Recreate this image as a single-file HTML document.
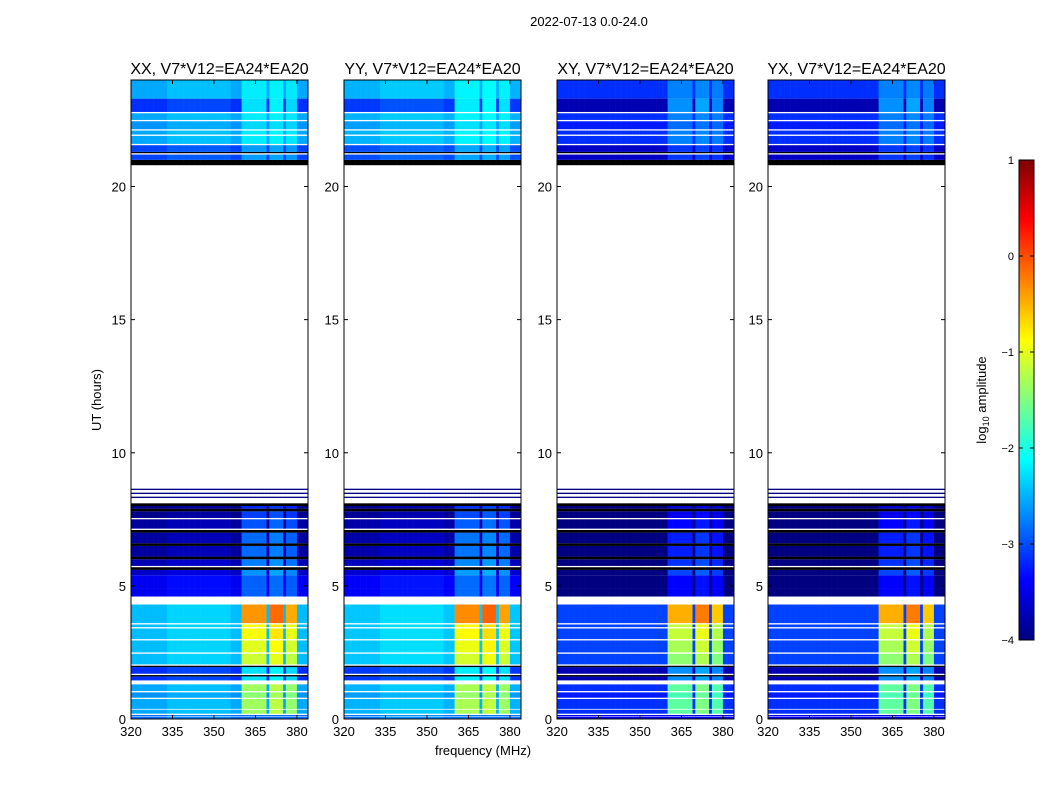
<!DOCTYPE html>
<html><head><meta charset="utf-8"><style>
body{margin:0;background:#fff;width:1050px;height:800px;overflow:hidden;font-family:"Liberation Sans",sans-serif}
svg text{font-family:"Liberation Sans",sans-serif}
</style></head><body>
<svg id="fig" width="1050" height="800" xmlns="http://www.w3.org/2000/svg">
<text x="589" y="26" font-size="13" text-anchor="middle">2022-07-13 0.0-24.0</text>
<text x="101" y="400" font-size="13" text-anchor="middle" transform="rotate(-90 101 400)">UT (hours)</text>
<text x="483" y="755" font-size="13" text-anchor="middle">frequency (MHz)</text>
<g id="panels"></g>
<g id="cbar"></g>
</svg>
<script>
// ---- data ----
const panelTitles = ["XX, V7*V12=EA24*EA20","YY, V7*V12=EA24*EA20","XY, V7*V12=EA24*EA20","YX, V7*V12=EA24*EA20"];
const polOffset = [-0.25, -0.2, -0.85, -0.85];
const polBand = [1.1, 1.1, 1.35, 1.35];
const segStart = [0.00,0.10,0.20,0.38,0.80,1.05,1.45,1.60,1.70,1.95,2.05,2.50,3.00,3.45,3.60,4.60,4.90,5.40,5.60,5.75,6.00,6.10,6.50,6.60,7.00,7.15,7.55,7.80,7.90,8.00,8.30,8.45,8.60,20.80,21.00,21.25,21.30,21.60,21.95,22.15,22.50,22.80,23.30];
const segEnd   = [0.08,0.15,0.35,0.75,1.00,1.30,1.60,1.65,1.95,2.00,2.45,2.95,3.40,3.55,4.30,4.90,5.40,5.60,5.70,6.00,6.10,6.50,6.60,7.00,7.10,7.50,7.80,7.90,8.00,8.10,8.35,8.50,8.65,21.00,21.20,21.30,21.55,21.90,22.10,22.45,22.75,23.30,24.00];
const segLevel = [-2.6,-2.6,-2.3,-2.3,-2.4,-2.3,-2.9,-5,-2.9,-5,-2.2,-2.2,-2.2,-2.2,-2.2,-3.2,-3.2,-3.4,-5,-3.5,-5,-3.6,-5,-3.6,-5,-3.6,-3.7,-5,-3.7,-5,-3.8,-3.8,-3.8,-5,-2.8,-5,-2.8,-2.3,-2.3,-2.4,-2.3,-2.9,-2.3];
const segBand  = [0,0,1.1,1.1,1.1,1.1,0.8,0,0.8,0,1.2,1.3,1.4,1.4,1.9,0.5,0.5,0.9,0,0.9,0,0.9,0,0.9,0,0.8,0.8,0,0.7,0,0,0,0,0,0.4,0,0.4,0.3,0.3,0.3,0.3,0.8,0.3];
const bandStart = [360.5,365.5,370.5,375.8];
const bandEnd   = [364.7,369.4,374.8,380.1];
const bandBoost = [1.0,1.0,1.1,0.95];
const xTicks = [320,335,350,365,380];
const yTicks = [0,5,10,15,20];
const cbTicks = [1,0,-1,-2,-3,-4];
const fMin=320, fMax=384, tMin=0, tMax=24, vMin=-4, vMax=1;
// ---- layout ----
const panelX=[131,344,557,768], pW=177, pTop=80, pBot=719;
const NS="http://www.w3.org/2000/svg";
function el(tag,attrs,parent){const e=document.createElementNS(NS,tag);for(const k in attrs)e.setAttribute(k,attrs[k]);parent.appendChild(e);return e;}
function jet(v){
  if(v<-4.9) return "#000000";
  let t=(v-vMin)/(vMax-vMin); t=Math.max(0,Math.min(1,t));
  const f=x=>Math.round(255*Math.max(0,Math.min(1,x)));
  const r=1.5-Math.abs(4*t-3), g=1.5-Math.abs(4*t-2), b=1.5-Math.abs(4*t-1);
  return `rgb(${f(r)},${f(g)},${f(b)})`;
}
const gp=document.getElementById('panels');
panelTitles.forEach((title,p)=>{
  const x0=panelX[p];
  const xs=f=>x0+(f-fMin)/(fMax-fMin)*pW;
  const ys=h=>pBot-(h-tMin)/(tMax-tMin)*(pBot-pTop);
  const g=el('g',{},gp);
  
  
  el('rect',{x:x0,y:pTop,width:pW,height:pBot-pTop,fill:'#fff'},g);
  for(let s=0;s<segStart.length;s++){
    const y1=ys(segEnd[s]), y2=ys(segStart[s]);
    for(let f=fMin;f<fMax;f++){
      let v=segLevel[s];
      if(v>-4.5){
        v+=polOffset[p];
        const fc=f+0.5;
        for(let b=0;b<bandStart.length;b++) if(fc>=bandStart[b]&&fc<=bandEnd[b]) v+=bandBoost[b]*segBand[s]*polBand[p];
        if(fc>333&&fc<356&&p<2) v+=0.12;
        v=Math.max(v,-4.2);
      }
      const r=el('rect',{x:xs(f),y:y1,width:xs(f+1)-xs(f)+0.3,height:y2-y1,fill:jet(v)},g);
      
      
    }
  }
  el('rect',{x:x0,y:pTop,width:pW,height:pBot-pTop,fill:'none',stroke:'#000','stroke-width':1},g);
  const t=el('text',{x:x0+pW/2,y:74,'font-size':16,'text-anchor':'middle'},g);t.textContent=title;
  
  
  xTicks.forEach(v=>{
    const x=xs(v);
    el('line',{x1:x,x2:x,y1:pBot,y2:pBot-4,stroke:'#000'},g);
    el('line',{x1:x,x2:x,y1:pTop,y2:pTop+4,stroke:'#000'},g);
    const l=el('text',{x:x,y:736,'font-size':13,'text-anchor':'middle'},g);l.textContent=v;
    
    
  });
  yTicks.forEach(v=>{
    const y=ys(v);
    el('line',{x1:x0,x2:x0+4,y1:y,y2:y,stroke:'#000'},g);
    el('line',{x1:x0+pW,x2:x0+pW-4,y1:y,y2:y,stroke:'#000'},g);
    const l=el('text',{x:x0-5,y:y+5,'font-size':13,'text-anchor':'end'},g);l.textContent=v;
    
    
  });
});
// colorbar
const cb=document.getElementById('cbar');


const cx=1019,cw=15,cT=160,cB=640;
for(let i=0;i<240;i++){
  const v=vMax-(i+0.5)/240*(vMax-vMin);
  el('rect',{x:cx,y:cT+i*2,width:cw,height:2.3,fill:jet(v)},cb);
}
el('rect',{x:cx,y:cT,width:cw,height:cB-cT,fill:'none',stroke:'#000'},cb);
cbTicks.forEach(v=>{
  const y=cT+(vMax-v)/(vMax-vMin)*(cB-cT);
  el('line',{x1:cx,x2:cx+4,y1:y,y2:y,stroke:'#000'},cb);
  el('line',{x1:cx+cw,x2:cx+cw-4,y1:y,y2:y,stroke:'#000'},cb);
  const l=el('text',{x:cx-5,y:y+4,'font-size':11,'text-anchor':'end'},cb);l.textContent=(v<0?'\u2212'+(-v):v);
  
  
});
const cl=el('text',{x:986,y:400,'font-size':13,'text-anchor':'middle',transform:'rotate(-90 986 400)'},cb);
cl.innerHTML='log<tspan font-size="9" dy="3">10</tspan><tspan dy="-3"> amplitude</tspan>';


</script>
</body></html>
